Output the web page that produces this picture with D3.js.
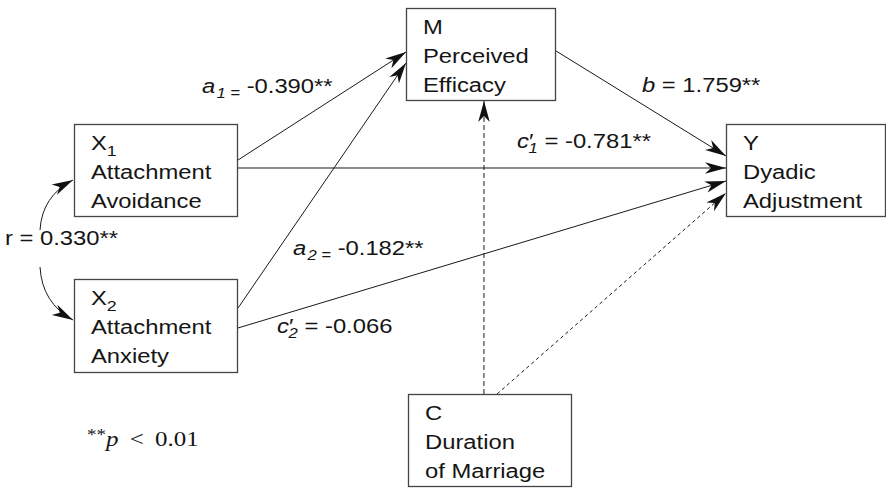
<!DOCTYPE html>
<html>
<head>
<meta charset="utf-8">
<script src="https://cdn.jsdelivr.net/npm/d3@7"></script>
<style>
  body { margin: 0; background: #fff; }
  svg { display: block; }
  text { font-family: "Liberation Sans", Arial, sans-serif; fill: #151515; }
</style>
</head>
<body>
<div id="chart"></div>
<script>
// model variables (boxes)
var nodeIds = ["X1", "X2", "M", "Y", "C"]
var nodeHead = ["X", "X", "M", "Y", "C"]
var nodeHeadSub = ["1", "2", "", "", ""]
var nodeLines = [["Attachment", "Avoidance"], ["Attachment", "Anxiety"], ["Perceived", "Efficacy"], ["Dyadic", "Adjustment"], ["Duration", "of Marriage"]]

// paths between them
var pathFrom = ["X1", "X2", "M", "X1", "X2", "C", "C"]
var pathTo = ["M", "M", "Y", "Y", "Y", "M", "Y"]
var pathIsControl = [false, false, false, false, false, true, true]

// coefficients
var coefIds = ["a1", "a2", "b", "c1", "c2", "r"]
var coefSym = ["a", "a", "b", "c", "c", "r"]
var coefSub = ["1", "2", "", "1", "2", ""]
var coefValue = ["-0.390", "-0.182", "1.759", "-0.781", "-0.066", "0.330"]
var coefStars = ["**", "**", "**", "**", "", "**"]
var noteText = "p < 0.01"

var width = 886
var height = 488
var sx = 1.19 // the original is a bit stretched sideways

// layout (in picture units)
var x = d3.scaleLinear().domain([0, 886]).range([0, width])
var y = d3.scaleLinear().domain([0, 488]).range([0, height])

var boxes = {
  X1: {x: 74, y: 124, w: 164, h: 93},
  X2: {x: 74, y: 279, w: 164, h: 94},
  M: {x: 406, y: 8, w: 150, h: 93},
  Y: {x: 726, y: 124, w: 160, h: 93},
  C: {x: 408, y: 394, w: 164, h: 93}
}
// anchor: side + fraction along that side, one per path
var anchorFrom = [["r", .387], ["r", .309], ["r", .462], ["r", .473], ["r", .521], ["t", .463], ["t", .543]]
var anchorTo = [["l", .473], ["l", .591], ["l", .344], ["l", .473], ["l", .613], ["b", .52], ["l", .742]]
var coefPos = {a1: [202, 93], a2: [293, 255], b: [642, 92], c1: [517, 148], c2: [277, 333], r: [5, 245]}

function anchor(id, a) {
  var b = boxes[id]
  if (a[0] == "r") return [b.x + b.w, b.y + b.h * a[1]]
  if (a[0] == "l") return [b.x, b.y + b.h * a[1]]
  if (a[0] == "t") return [b.x + b.w * a[1], b.y]
  return [b.x + b.w * a[1], b.y + b.h]
}

var svg = d3.select("#chart").append("svg")
  .attr("width", width)
  .attr("height", height)

svg.append("defs").append("marker")
  .attr("id", "head")
  .attr("markerUnits", "userSpaceOnUse")
  .attr("viewBox", "-22 -7 23 14")
  .attr("refX", 0).attr("refY", 0)
  .attr("markerWidth", 23).attr("markerHeight", 14)
  .attr("orient", "auto")
  .append("path")
  .attr("d", "M0,0 L-21,-5.8 L-15,0 L-21,5.8 Z")
  .attr("fill", "#111")

// paths
var paths = svg.append("g")
paths.selectAll("line")
  .data(pathFrom.map((f, i) => ({p1: anchor(f, anchorFrom[i]), p2: anchor(pathTo[i], anchorTo[i]), ctrl: pathIsControl[i], i: i})))
  .join("line")
    .attr("x1", d => x(d.p1[0]))
    .attr("y1", d => y(d.p1[1]))
    .attr("x2", d => x(d.p2[0]))
    .attr("y2", d => y(d.p2[1]))
    .attr("stroke", "#1a1a1a")
    .attr("stroke-width", 1)
    .attr("stroke-dasharray", d => d.ctrl ? (d.i == 5 ? "5,3" : "3.5,3") : null)
    .attr("marker-end", "url(#head)")

// correlation r, two curved arrows
var curves = [[[40, 230], [42, 196], [73, 180]], [[40, 267], [42, 303], [73, 320]]]
paths.selectAll("path.r")
  .data(curves)
  .join("path")
    .attr("class", "r")
    .attr("d", d => `M${x(d[0][0])},${y(d[0][1])} Q${x(d[1][0])},${y(d[1][1])} ${x(d[2][0])},${y(d[2][1])}`)
    .attr("fill", "none")
    .attr("stroke", "#1a1a1a")
    .attr("stroke-width", 1)
    .attr("marker-end", "url(#head)")

// boxes
var nodes = svg.append("g").selectAll("g")
  .data(nodeIds.map((id, i) => ({id: id, i: i, b: boxes[id]})))
  .join("g")

nodes.append("rect")
  .attr("x", d => x(d.b.x) + 0.5)
  .attr("y", d => y(d.b.y) + 0.5)
  .attr("width", d => x(d.b.w) - 1)
  .attr("height", d => y(d.b.h) - 1)
  .attr("fill", "#fff")
  .attr("stroke", "#444")
  .attr("stroke-width", 1.3)

nodes.each(function(d) {
  var g = d3.select(this)
  var tx = x(d.b.x) + 17
  var head = g.append("text")
    .attr("transform", `translate(${tx},${y(d.b.y) + 26}) scale(${sx},1)`)
    .attr("font-size", 20)
  head.append("tspan").text(nodeHead[d.i])
  if (nodeHeadSub[d.i]) head.append("tspan").attr("font-size", 15).attr("dy", 6).text(nodeHeadSub[d.i])
  nodeLines[d.i].forEach((l, k) => {
    g.append("text")
      .attr("transform", `translate(${tx},${y(d.b.y) + 55 + k * 29}) scale(${sx},1)`)
      .attr("font-size", 20)
      .text(l)
  })
})

// coefficient labels
var labels = svg.append("g")
coefIds.forEach((id, i) => {
  var t = labels.append("text")
    .attr("transform", `translate(${x(coefPos[id][0])},${y(coefPos[id][1])}) scale(${sx},1)`)
    .attr("font-size", 20)
  var sym = coefSym[i]
  if (sym == "r") {
    t.text("r = " + coefValue[i] + coefStars[i])
    return
  }
  t.append("tspan").attr("font-style", "italic").text(sym)
  if (sym == "a") {
    t.append("tspan").attr("font-style", "italic").attr("font-size", 14).attr("dx", 1).attr("dy", 5).text(coefSub[i] + " =")
    t.append("tspan").attr("dy", -5).text(" " + coefValue[i] + coefStars[i])
  } else if (sym == "c") {
    t.append("tspan").text("\u2032")
    t.append("tspan").attr("font-style", "italic").attr("font-size", 14).attr("dx", -4).attr("dy", 5).text(coefSub[i])
    t.append("tspan").attr("dy", -5).text(" = " + coefValue[i] + coefStars[i])
  } else {
    t.append("tspan").text(" = " + coefValue[i] + coefStars[i])
  }
})

// note
var nt = svg.append("text")
  .attr("transform", `translate(${x(87)},${y(446)}) scale(${sx},1)`)
  .attr("font-size", 21)
  .style("font-family", "'Liberation Serif', 'Times New Roman', serif")
nt.append("tspan").attr("font-size", 16).attr("dy", -6).text("**")
nt.append("tspan").attr("dy", 6).attr("font-style", "italic").text("p")
nt.append("tspan").text(" \u2009<\u2009 0.01")
</script>
</body>
</html>
